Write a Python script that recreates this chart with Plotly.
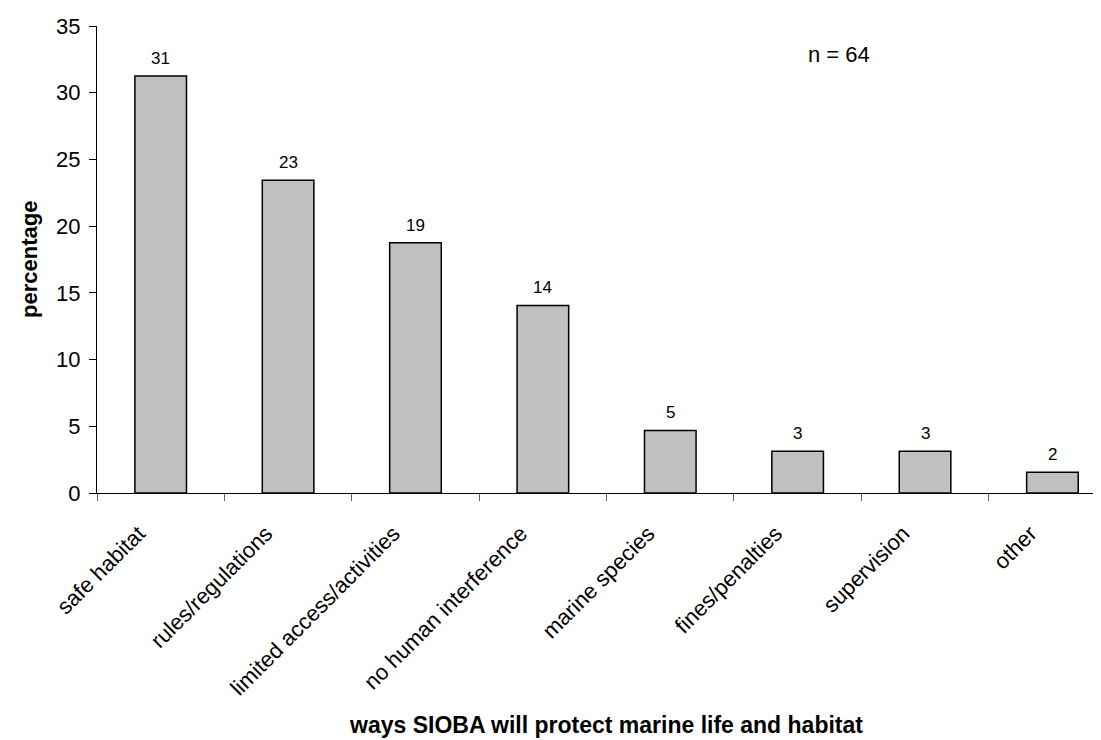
import plotly.graph_objects as go

categories = ["safe habitat", "rules/regulations", "limited access/activities",
              "no human interference", "marine species", "fines/penalties",
              "supervision", "other"]
percent = [31.25, 23.44, 18.75, 14.06, 4.69, 3.13, 3.13, 1.56]
labels = ["31", "23", "19", "14", "5", "3", "3", "2"]

FONT = "Liberation Sans, Arial, sans-serif"

fig = go.Figure()
fig.add_trace(go.Bar(
    x=categories, y=percent,
    width=0.405,
    marker=dict(color="#C0C0C0", line=dict(color="black", width=1.5)),
    hoverinfo="x+y",
))

# etiquetas sobre las barras
for c, v, t in zip(categories, percent, labels):
    fig.add_annotation(x=c, y=v, text=t, showarrow=False, yanchor="bottom",
                       yshift=6, font=dict(size=17, color="black", family=FONT))

fig.add_annotation(xref="paper", yref="paper", x=0.7006, y=0.94, text="n = 64",
                   showarrow=False, xanchor="left", yanchor="middle",
                   font=dict(size=22, color="black", family=FONT))

fig.add_annotation(xref="paper", yref="paper", x=-0.0667, y=0.5, text="<b>percentage</b>",
                   textangle=-90, showarrow=False, xanchor="center", yanchor="middle",
                   font=dict(size=22, color="black", family=FONT))

fig.add_annotation(xref="paper", yref="paper", x=0.503, y=-0.497,
                   text="<b>ways SIOBA will protect marine life and habitat</b>",
                   showarrow=False, xanchor="center", yanchor="middle",
                   font=dict(size=23, color="black", family=FONT))

fig.update_layout(
    width=1101, height=740,
    margin=dict(l=89, r=0, t=18, b=255),
    plot_bgcolor="white", paper_bgcolor="white",
    font=dict(family=FONT, size=22, color="black"),
    showlegend=False,
    xaxis=dict(
        range=[-0.5, 7.444], tickangle=-45, tickson="boundaries",
        ticks="outside", ticklen=7, tickcolor="#666666",
        showline=True, linecolor="black", linewidth=1,
        showgrid=False, zeroline=False,
        ticklabelstandoff=18, ticklabelshift=-22,
    ),
    yaxis=dict(
        range=[0, 35], dtick=5, ticks="outside", ticklen=7, tickcolor="black",
        showline=True, linecolor="black", linewidth=1,
        showgrid=False, zeroline=False, ticklabelstandoff=4,
    ),
)

fig.write_html("out.html")
